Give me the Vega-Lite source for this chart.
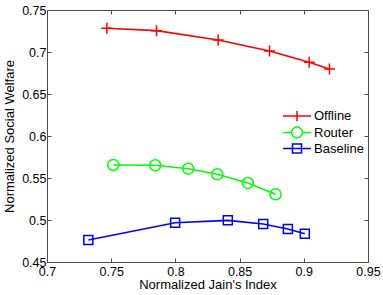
{
  "$schema": "https://vega.github.io/schema/vega-lite/v6.json",
  "width": 321,
  "height": 252,
  "autosize": {"type": "none"},
  "padding": {"left": 47, "top": 10, "right": 15, "bottom": 33},
  "background": "white",
  "config": {
    "font": "Liberation Sans",
    "view": {"stroke": "#4d4d4d", "strokeWidth": 1},
    "axis": {"grid": false, "domain": false, "labelFont": "Liberation Sans", "titleFont": "Liberation Sans", "labelColor": "#000", "titleColor": "#000", "labelFontSize": 12.5, "titleFontSize": 13, "titleFontWeight": "normal", "tickColor": "#4d4d4d", "tickSize": -4, "format": ".2~f"}
  },
  "data": {
    "values": [
      {"series": "Offline", "x": 0.7466, "y": 0.7282},
      {"series": "Offline", "x": 0.7853, "y": 0.7254},
      {"series": "Offline", "x": 0.8333, "y": 0.7143},
      {"series": "Offline", "x": 0.8733, "y": 0.7012},
      {"series": "Offline", "x": 0.9042, "y": 0.6877},
      {"series": "Offline", "x": 0.9200, "y": 0.6798},
      {"series": "Router", "x": 0.7516, "y": 0.5655},
      {"series": "Router", "x": 0.7843, "y": 0.5651},
      {"series": "Router", "x": 0.8100, "y": 0.5611},
      {"series": "Router", "x": 0.8326, "y": 0.5544},
      {"series": "Router", "x": 0.8564, "y": 0.5440},
      {"series": "Router", "x": 0.8780, "y": 0.5306},
      {"series": "Baseline", "x": 0.7322, "y": 0.4762},
      {"series": "Baseline", "x": 0.7998, "y": 0.4968},
      {"series": "Baseline", "x": 0.8408, "y": 0.4996},
      {"series": "Baseline", "x": 0.8684, "y": 0.4952},
      {"series": "Baseline", "x": 0.8876, "y": 0.4893},
      {"series": "Baseline", "x": 0.9008, "y": 0.4837}
    ]
  },
  "resolve": {"axis": {"x": "independent", "y": "independent"}},
  "layer": [
    {
      "mark": {"type": "line", "strokeWidth": 1.6},
      "encoding": {
        "x": {"field": "x", "type": "quantitative", "scale": {"domain": [0.7, 0.95], "nice": false, "zero": false},
              "axis": {"orient": "bottom", "values": [0.7, 0.75, 0.8, 0.85, 0.9, 0.95], "title": "Normalized Jain's Index", "labelPadding": 7, "titlePadding": 1, "labelFlush": false}},
        "y": {"field": "y", "type": "quantitative", "scale": {"domain": [0.45, 0.75], "nice": false, "zero": false},
              "axis": {"orient": "left", "values": [0.45, 0.5, 0.55, 0.6, 0.65, 0.7, 0.75], "title": "Normalized Social Welfare", "labelPadding": 5, "titlePadding": 5, "labelFlush": false}},
        "color": {"field": "series", "type": "nominal", "scale": {"domain": ["Offline", "Router", "Baseline"], "range": ["#ff0000", "#00ff00", "#0000ff"]},
          "legend": {"title": null, "orient": "none", "legendX": 243, "legendY": 99, "labelFontSize": 13, "labelColor": "#000", "labelFont": "Liberation Sans", "symbolSize": 144, "rowPadding": -1.5, "labelOffset": 10,
            "encode": {"symbols": {"update": {
              "shape": {"signal": "datum.value === 'Offline' ? 'M-2.33,0L2.33,0M0,-0.85L0,0.85' : datum.value === 'Router' ? 'M-2.33,0L-0.9,0M0.9,0L2.33,0M0.9,0C0.9,0.497 0.497,0.9 0,0.9C-0.497,0.9 -0.9,0.497 -0.9,0C-0.9,-0.497 -0.497,-0.9 0,-0.9C0.497,-0.9 0.9,-0.497 0.9,0Z' : 'M-2.33,0L2.33,0M-0.75,-0.75L0.75,-0.75L0.75,0.75L-0.75,0.75Z'"},
              "size": {"value": 144},
              "strokeWidth": {"value": 1.5},
              "fill": {"value": "transparent"},
              "opacity": {"value": 1}
            }}}}},
        "detail": {"field": "series"}
      }
    },
    {
      "mark": {"type": "point", "filled": false, "strokeWidth": 1.5, "opacity": 1,
        "shape": {"expr": "datum.series === 'Offline' ? 'M-1,0L1,0M0,-1L0,1' : datum.series === 'Router' ? 'circle' : 'square'"},
        "size": {"expr": "datum.series === 'Baseline' ? 81 : 121"}},
      "encoding": {
        "x": {"field": "x", "type": "quantitative", "axis": {"orient": "top", "values": [0.7, 0.75, 0.8, 0.85, 0.9, 0.95], "labels": false, "title": null}},
        "y": {"field": "y", "type": "quantitative", "axis": {"orient": "right", "values": [0.45, 0.5, 0.55, 0.6, 0.65, 0.7, 0.75], "labels": false, "title": null}},
        "color": {"field": "series", "type": "nominal"}
      }
    }
  ]
}
